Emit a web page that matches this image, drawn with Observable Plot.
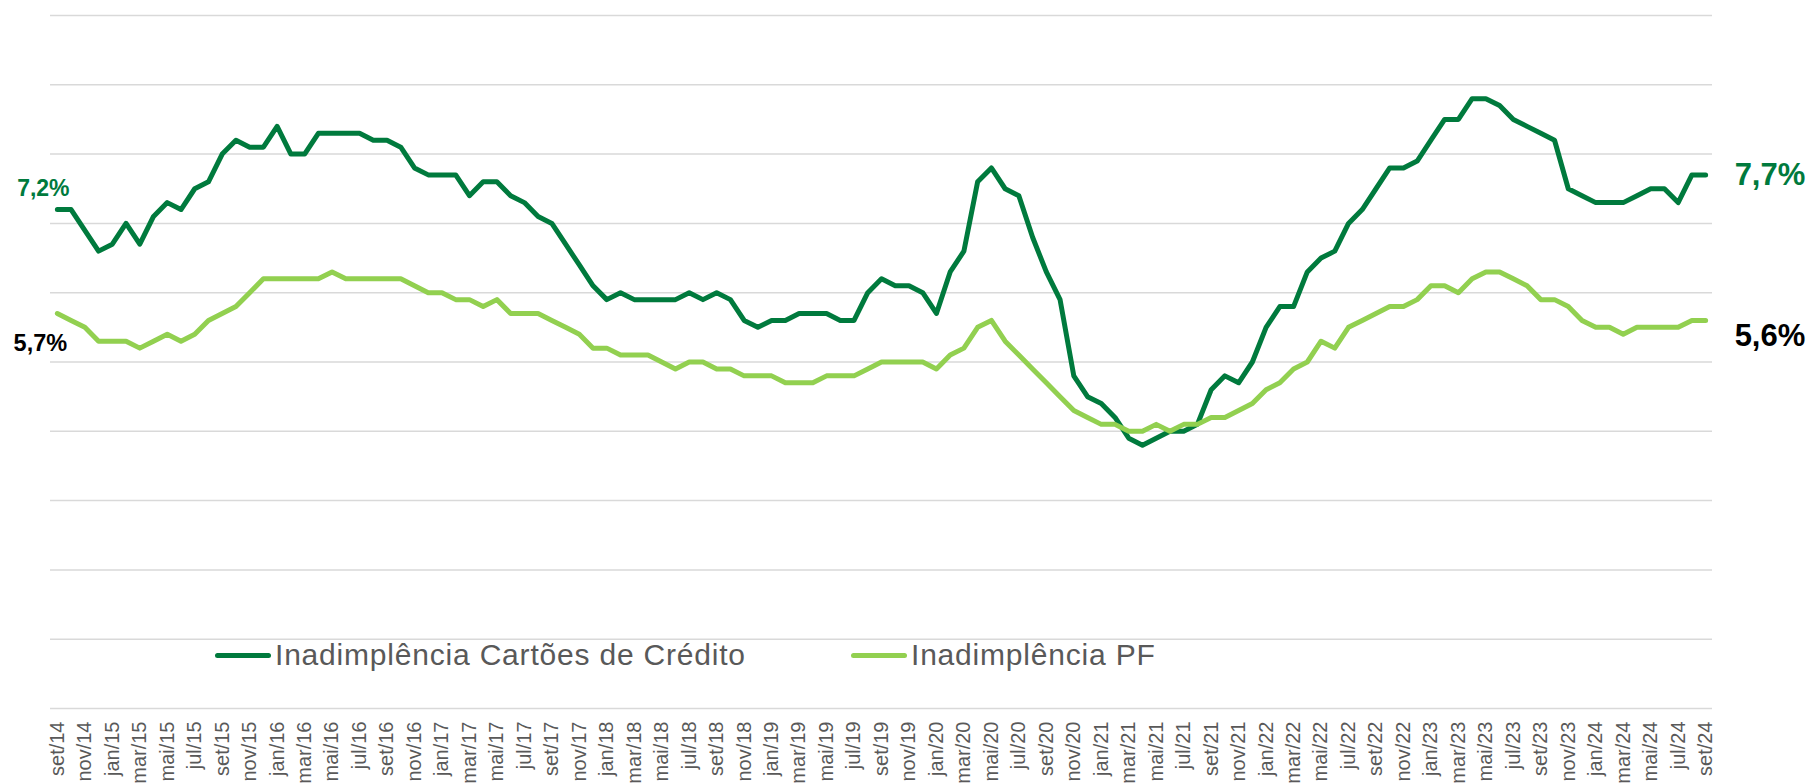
<!DOCTYPE html>
<html>
<head>
<meta charset="utf-8">
<script src="https://cdn.jsdelivr.net/npm/d3@7"></script>
<script src="https://cdn.jsdelivr.net/npm/@observablehq/plot@0.6"></script>
<style>
  body { margin: 0; background: #fff; }
  #wrap { position: relative; width: 1813px; height: 784px; overflow: hidden; font-family: "Liberation Sans", Arial, sans-serif; }
  .legend { position: absolute; top: 636px; height: 38px; display: flex; align-items: center; font-size: 30px; letter-spacing: 0.8px; color: #595959; white-space: nowrap; }
  .legend .sw { display: inline-block; width: 56px; height: 5px; border-radius: 3px; margin-right: 4px; }
</style>
</head>
<body>
<div id="wrap"></div>
<script>
// Month categories (set/14 .. set/24)
const monthNames = ["jan","fev","mar","abr","mai","jun","jul","ago","set","out","nov","dez"];
const months = d3.range(121).map(i => `${monthNames[(8 + i) % 12]}/${14 + Math.floor((8 + i) / 12)}`);
const tickLabels = months.filter((d, i) => i % 2 === 0);

// Inadimplência Cartões de Crédito (%)
const cartoes = [
  7.2, 7.2, 6.9, 6.6, 6.7, 7.0, 6.7, 7.1, 7.3, 7.2, 7.5, 7.6,
  8.0, 8.2, 8.1, 8.1, 8.4, 8.0, 8.0, 8.3, 8.3, 8.3, 8.3, 8.2,
  8.2, 8.1, 7.8, 7.7, 7.7, 7.7, 7.4, 7.6, 7.6, 7.4, 7.3, 7.1,
  7.0, 6.7, 6.4, 6.1, 5.9, 6.0, 5.9, 5.9, 5.9, 5.9, 6.0, 5.9,
  6.0, 5.9, 5.6, 5.5, 5.6, 5.6, 5.7, 5.7, 5.7, 5.6, 5.6, 6.0,
  6.2, 6.1, 6.1, 6.0, 5.7, 6.3, 6.6, 7.6, 7.8, 7.5, 7.4, 6.8,
  6.3, 5.9, 4.8, 4.5, 4.4, 4.2, 3.9, 3.8, 3.9, 4.0, 4.0, 4.1,
  4.6, 4.8, 4.7, 5.0, 5.5, 5.8, 5.8, 6.3, 6.5, 6.6, 7.0, 7.2,
  7.5, 7.8, 7.8, 7.9, 8.2, 8.5, 8.5, 8.8, 8.8, 8.7, 8.5, 8.4,
  8.3, 8.2, 7.5, 7.4, 7.3, 7.3, 7.3, 7.4, 7.5, 7.5, 7.3, 7.7,
  7.7
];

// Inadimplência PF (%)
const pf = [
  5.7, 5.6, 5.5, 5.3, 5.3, 5.3, 5.2, 5.3, 5.4, 5.3, 5.4, 5.6,
  5.7, 5.8, 6.0, 6.2, 6.2, 6.2, 6.2, 6.2, 6.3, 6.2, 6.2, 6.2,
  6.2, 6.2, 6.1, 6.0, 6.0, 5.9, 5.9, 5.8, 5.9, 5.7, 5.7, 5.7,
  5.6, 5.5, 5.4, 5.2, 5.2, 5.1, 5.1, 5.1, 5.0, 4.9, 5.0, 5.0,
  4.9, 4.9, 4.8, 4.8, 4.8, 4.7, 4.7, 4.7, 4.8, 4.8, 4.8, 4.9,
  5.0, 5.0, 5.0, 5.0, 4.9, 5.1, 5.2, 5.5, 5.6, 5.3, 5.1, 4.9,
  4.7, 4.5, 4.3, 4.2, 4.1, 4.1, 4.0, 4.0, 4.1, 4.0, 4.1, 4.1,
  4.2, 4.2, 4.3, 4.4, 4.6, 4.7, 4.9, 5.0, 5.3, 5.2, 5.5, 5.6,
  5.7, 5.8, 5.8, 5.9, 6.1, 6.1, 6.0, 6.2, 6.3, 6.3, 6.2, 6.1,
  5.9, 5.9, 5.8, 5.6, 5.5, 5.5, 5.4, 5.5, 5.5, 5.5, 5.5, 5.6,
  5.6
];

const yTicks = [0, 1, 2, 3, 4, 5, 6, 7, 8, 9, 10];
const seriesNames = ["Inadimplência Cartões de Crédito", "Inadimplência PF"];
const darkGreen = "#007A3D";
const lightGreen = "#92D050";

const data = months.map((m, i) => ({m, cartoes: cartoes[i], pf: pf[i]}));
const first = data[0], last = data[data.length - 1];
const fmt = v => `${v.toFixed(1).replace(".", ",")}%`;

const chart = Plot.plot({
  width: 1813,
  height: 784,
  marginLeft: 50,
  marginRight: 101,
  marginTop: 15,
  marginBottom: 76,
  style: {fontFamily: '"Liberation Sans", Arial, sans-serif', background: "#fff"},
  x: {type: "point", domain: months, padding: 0.5, axis: null},
  y: {domain: [0, 10], axis: null},
  marks: [
    Plot.gridY(yTicks, {stroke: "#d9d9d9", strokeOpacity: 1, strokeWidth: 1.5}),
    Plot.text(tickLabels, {x: d => d, frameAnchor: "bottom", rotate: -90, textAnchor: "end", lineAnchor: "middle", dy: 13, fontSize: 20, fill: "#595959"}),
    Plot.line(data, {x: "m", y: "cartoes", stroke: darkGreen, strokeWidth: 5, strokeLinejoin: "round", strokeLinecap: "round"}),
    Plot.line(data, {x: "m", y: "pf", stroke: lightGreen, strokeWidth: 5, strokeLinejoin: "round", strokeLinecap: "round"}),
    Plot.text([first], {x: "m", y: "cartoes", text: d => fmt(d.cartoes), dx: -14, dy: -21, fill: darkGreen, fontWeight: "bold", fontSize: 23, textAnchor: "middle"}),
    Plot.text([first], {x: "m", y: "pf", text: d => fmt(d.pf), dx: -17, dy: 30, fill: "#000", fontWeight: "bold", fontSize: 23.5, textAnchor: "middle"}),
    Plot.text([last], {x: "m", y: "cartoes", text: d => fmt(d.cartoes), dx: 29, dy: 0, fill: darkGreen, fontWeight: "bold", fontSize: 31, textAnchor: "start"}),
    Plot.text([last], {x: "m", y: "pf", text: d => fmt(d.pf), dx: 29, dy: 16, fill: "#000", fontWeight: "bold", fontSize: 31, textAnchor: "start"})
  ]
});

const wrap = document.getElementById("wrap");
wrap.appendChild(chart);

const legendItems = [
  {name: seriesNames[0], color: darkGreen, left: 215},
  {name: seriesNames[1], color: lightGreen, left: 851}
];
for (const it of legendItems) {
  const div = document.createElement("div");
  div.className = "legend";
  div.style.left = it.left + "px";
  const sw = document.createElement("span");
  sw.className = "sw";
  sw.style.background = it.color;
  const tx = document.createElement("span");
  tx.textContent = it.name;
  div.appendChild(sw);
  div.appendChild(tx);
  wrap.appendChild(div);
}
</script>
</body>
</html>
